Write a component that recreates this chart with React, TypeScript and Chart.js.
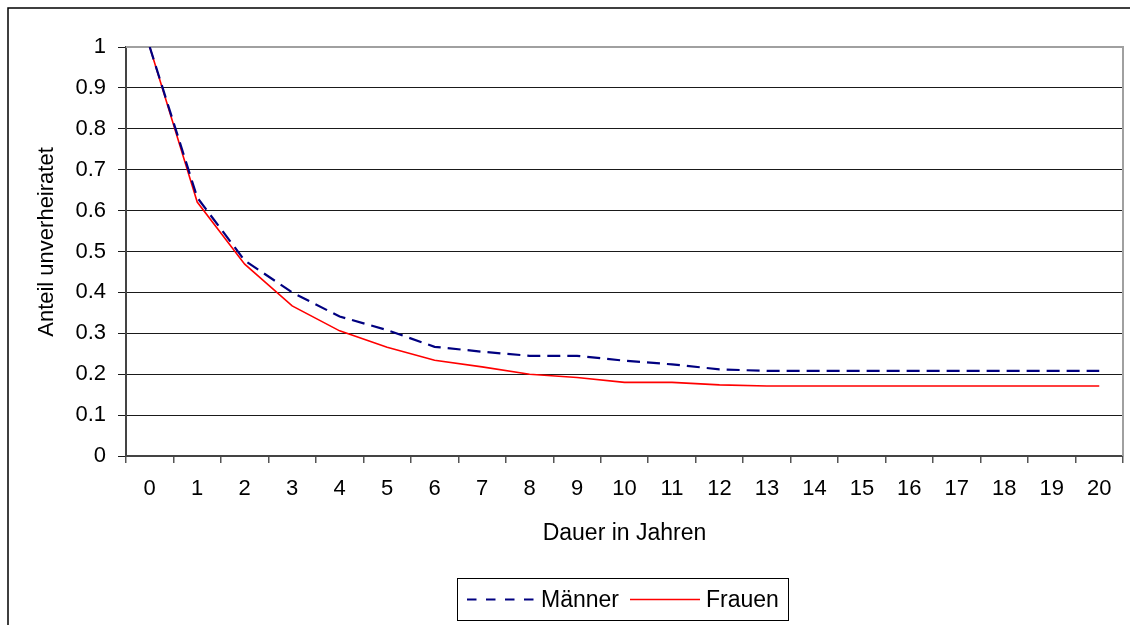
import React, { useEffect, useRef } from "react";
import { Chart, registerables } from "chart.js";

Chart.register(...registerables);

const categories = ["0","1","2","3","4","5","6","7","8","9","10","11","12","13","14","15","16","17","18","19","20"];
const maennerValues = [1.0, 0.632, 0.478, 0.40, 0.341, 0.308, 0.267, 0.255, 0.245, 0.245, 0.233, 0.224, 0.212, 0.208, 0.208, 0.208, 0.208, 0.208, 0.208, 0.208, 0.208];
const frauenValues = [1.0, 0.621, 0.469, 0.367, 0.306, 0.266, 0.234, 0.218, 0.200, 0.192, 0.180, 0.180, 0.174, 0.171, 0.171, 0.171, 0.171, 0.171, 0.171, 0.171, 0.171];
const seriesNames = ["Männer", "Frauen"];
const xTitle = "Dauer in Jahren";
const yTitle = "Anteil unverheiratet";

const FONT = "'Liberation Sans', Arial, sans-serif";

const decorPlugin = {
  id: "decor",
  beforeDraw(chart: any) {
    const ctx = chart.ctx;
    ctx.save();
    ctx.fillStyle = "#ffffff";
    ctx.fillRect(0, 0, chart.width, chart.height);
    ctx.restore();
  },
  beforeDatasetsDraw(chart: any) {
    const { ctx, chartArea } = chart;
    ctx.save();
    ctx.strokeStyle = "#a0a0a0";
    ctx.lineWidth = 2;
    ctx.beginPath();
    ctx.moveTo(chartArea.left, chartArea.top);
    ctx.lineTo(chartArea.right, chartArea.top);
    ctx.lineTo(chartArea.right, chartArea.bottom);
    ctx.stroke();
    ctx.restore();
  },
  afterDraw(chart: any) {
    const ctx = chart.ctx;
    ctx.save();
    // outer chart border (top and left visible)
    ctx.strokeStyle = "#000000";
    ctx.lineWidth = 1.5;
    ctx.beginPath();
    ctx.moveTo(8, chart.height + 2);
    ctx.lineTo(8, 8);
    ctx.lineTo(chart.width + 2, 8);
    ctx.stroke();

    // y axis title
    ctx.save();
    ctx.translate(47, 242);
    ctx.rotate(-Math.PI / 2);
    ctx.font = `22px ${FONT}`;
    ctx.fillStyle = "#000000";
    ctx.textAlign = "center";
    ctx.textBaseline = "middle";
    ctx.fillText(yTitle, 0, 0);
    ctx.restore();

    // legend
    const bx = 457, by = 578, bw = 331, bh = 42;
    ctx.lineWidth = 1;
    ctx.strokeStyle = "#000000";
    ctx.strokeRect(bx + 0.5, by + 0.5, bw, bh);
    const cy = by + bh / 2 + 0.5;
    const ds = chart.data.datasets;
    ctx.font = `23px ${FONT}`;
    ctx.fillStyle = "#000000";
    ctx.textBaseline = "middle";
    ctx.textAlign = "left";
    // Männer
    ctx.strokeStyle = ds[0].borderColor;
    ctx.lineWidth = 2;
    ctx.setLineDash([9.5, 9.5]);
    ctx.beginPath();
    ctx.moveTo(467, cy);
    ctx.lineTo(536, cy);
    ctx.stroke();
    ctx.setLineDash([]);
    ctx.fillText(ds[0].label, 541, cy + 1);
    // Frauen
    ctx.strokeStyle = ds[1].borderColor;
    ctx.lineWidth = 1.5;
    ctx.beginPath();
    ctx.moveTo(630, cy);
    ctx.lineTo(700, cy);
    ctx.stroke();
    ctx.fillText(ds[1].label, 706, cy + 1);
    ctx.restore();
  },
};

export default function App() {
  const ref = useRef<HTMLCanvasElement | null>(null);

  useEffect(() => {
    if (!ref.current) return;
    const chart = new Chart(ref.current, {
      type: "line",
      data: {
        labels: categories,
        datasets: [
          {
            label: seriesNames[0],
            data: maennerValues,
            borderColor: "#000080",
            borderWidth: 2.2,
            borderDash: [13, 7],
            pointRadius: 0,
            tension: 0,
            fill: false,
          },
          {
            label: seriesNames[1],
            data: frauenValues,
            borderColor: "#ff0000",
            borderWidth: 1.6,
            pointRadius: 0,
            tension: 0,
            fill: false,
          },
        ],
      },
      options: {
        responsive: false,
        animation: false,
        devicePixelRatio: 1,
        layout: { padding: { left: 0, top: 47, right: 7, bottom: 0 } },
        plugins: {
          legend: { display: false },
          tooltip: { enabled: false },
        },
        scales: {
          x: {
            type: "category",
            offset: true,
            grid: {
              offset: true,
              drawOnChartArea: false,
              drawTicks: true,
              tickLength: 7,
              color: "#555555",
              lineWidth: 1.5,
            },
            border: { display: true, color: "#444444", width: 2 },
            ticks: {
              color: "#000000",
              font: { family: FONT, size: 22 },
              padding: 13,
              maxRotation: 0,
              autoSkip: false,
            },
            title: {
              display: true,
              text: xTitle,
              color: "#000000",
              font: { family: FONT, size: 23 },
              padding: { top: 0, bottom: 78 },
            },
            afterFit(scale: any) {
              scale.height = 169;
            },
          },
          y: {
            min: 0,
            max: 1,
            grid: {
              color: "#1a1a1a",
              lineWidth: 1,
              drawTicks: true,
              tickLength: 8,
            },
            border: { display: true, color: "#444444", width: 2 },
            ticks: {
              stepSize: 0.1,
              color: "#000000",
              font: { family: FONT, size: 22 },
              padding: 12,
              callback: (v: any) => String(Math.round(Number(v) * 10) / 10),
            },
            title: { display: false },
            afterFit(scale: any) {
              scale.width = 126;
            },
          },
        },
      },
      plugins: [decorPlugin],
    });
    return () => chart.destroy();
  }, []);

  return (
    <div style={{ position: "fixed", left: 0, top: 0, width: 1130, height: 625, background: "#fff" }}>
      <canvas ref={ref} width={1130} height={625} style={{ display: "block", width: 1130, height: 625 }} />
    </div>
  );
}
